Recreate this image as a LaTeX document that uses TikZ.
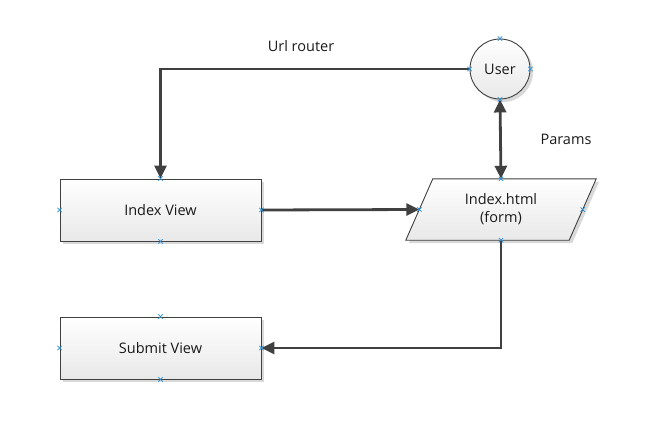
\documentclass[tikz,border=0pt]{standalone}
\usepackage{fontspec}
\setmainfont{Open Sans}
\usetikzlibrary{arrows.meta,shadows,calc}
\definecolor{linec}{HTML}{404040}
\definecolor{markc}{HTML}{2A8FD8}
\definecolor{txtc}{HTML}{1A1A1A}
\begin{document}
\begin{tikzpicture}[x=1pt,y=-1pt,
  lbl/.style={text=txtc,font=\fontsize{14.5}{17}\selectfont},
  shapebox/.style={draw=linec,line width=0.9pt,top color=white,bottom color=black!9,
     drop shadow={shadow xshift=3pt,shadow yshift=-3pt,fill=black!15,opacity=1},
     minimum width=201pt,minimum height=62pt,inner sep=0pt,lbl},
  circbox/.style={circle,draw=linec,line width=0.9pt,top color=white,bottom color=black!9,
     drop shadow={shadow xshift=3pt,shadow yshift=-3pt,fill=black!15,opacity=1},
     minimum size=60pt,inner sep=0pt,lbl},
  conn/.style={draw=linec,line width=2.8pt,-{Triangle[length=13pt,width=12pt]}},
  xm/.pic={\draw[markc,line width=0.7pt] (-2.2,-2.2)--(2.2,2.2) (-2.2,2.2)--(2.2,-2.2);}
]
\useasboundingbox (0,0) rectangle (657,439);

% parallelogram frame
\node[minimum width=190pt,minimum height=61pt,inner sep=0pt] (form) at (501,209.5) {};
\coordinate (fl) at ($(form.west)+(13.5,0)$);
\coordinate (fr) at ($(form.east)+(-13.5,0)$);
\fill[black!15] ($(form.north west)+(30,3)$) -- ($(form.north east)+(3,3)$)
   -- ($(form.south east)+(-24,3)$) -- ($(form.south west)+(3,3)$) -- cycle;
\draw[draw=linec,line width=0.9pt,top color=white,bottom color=black!9]
   ($(form.north west)+(27,0)$) -- (form.north east)
   -- ($(form.south east)+(-27,0)$) -- (form.south west) -- cycle;
\node[lbl,align=center] (formtext) at (form.center) {Index.html\\[1pt](form)};

\node[shapebox] (iv) at (160.5,210) {Index View};
\node[shapebox] (sv) at (160.5,348) {Submit View};
\node[circbox] (user) at (500,69) {User};

\node[lbl] (url) at (301,46) {Url router};
\node[lbl] (params) at (566,139) {Params};

% connectors
\draw[conn] (user.west) -| (iv.north);
\draw[conn] (iv.east) -- (fl);
\draw[conn,{Triangle[length=13pt,width=12pt]}-{Triangle[length=13pt,width=12pt]}] (user.south) -- (form.north);
\draw[conn] (form.south) |- (sv.east);

% connection markers
\foreach \a in {north,south,east,west}{
  \pic at (iv.\a) {xm};
  \pic at (sv.\a) {xm};
  \pic at (user.\a) {xm};
}
\pic at (form.north) {xm};
\pic at (form.south) {xm};
\pic at (fl) {xm};
\pic at (fr) {xm};
\end{tikzpicture}
\end{document}
